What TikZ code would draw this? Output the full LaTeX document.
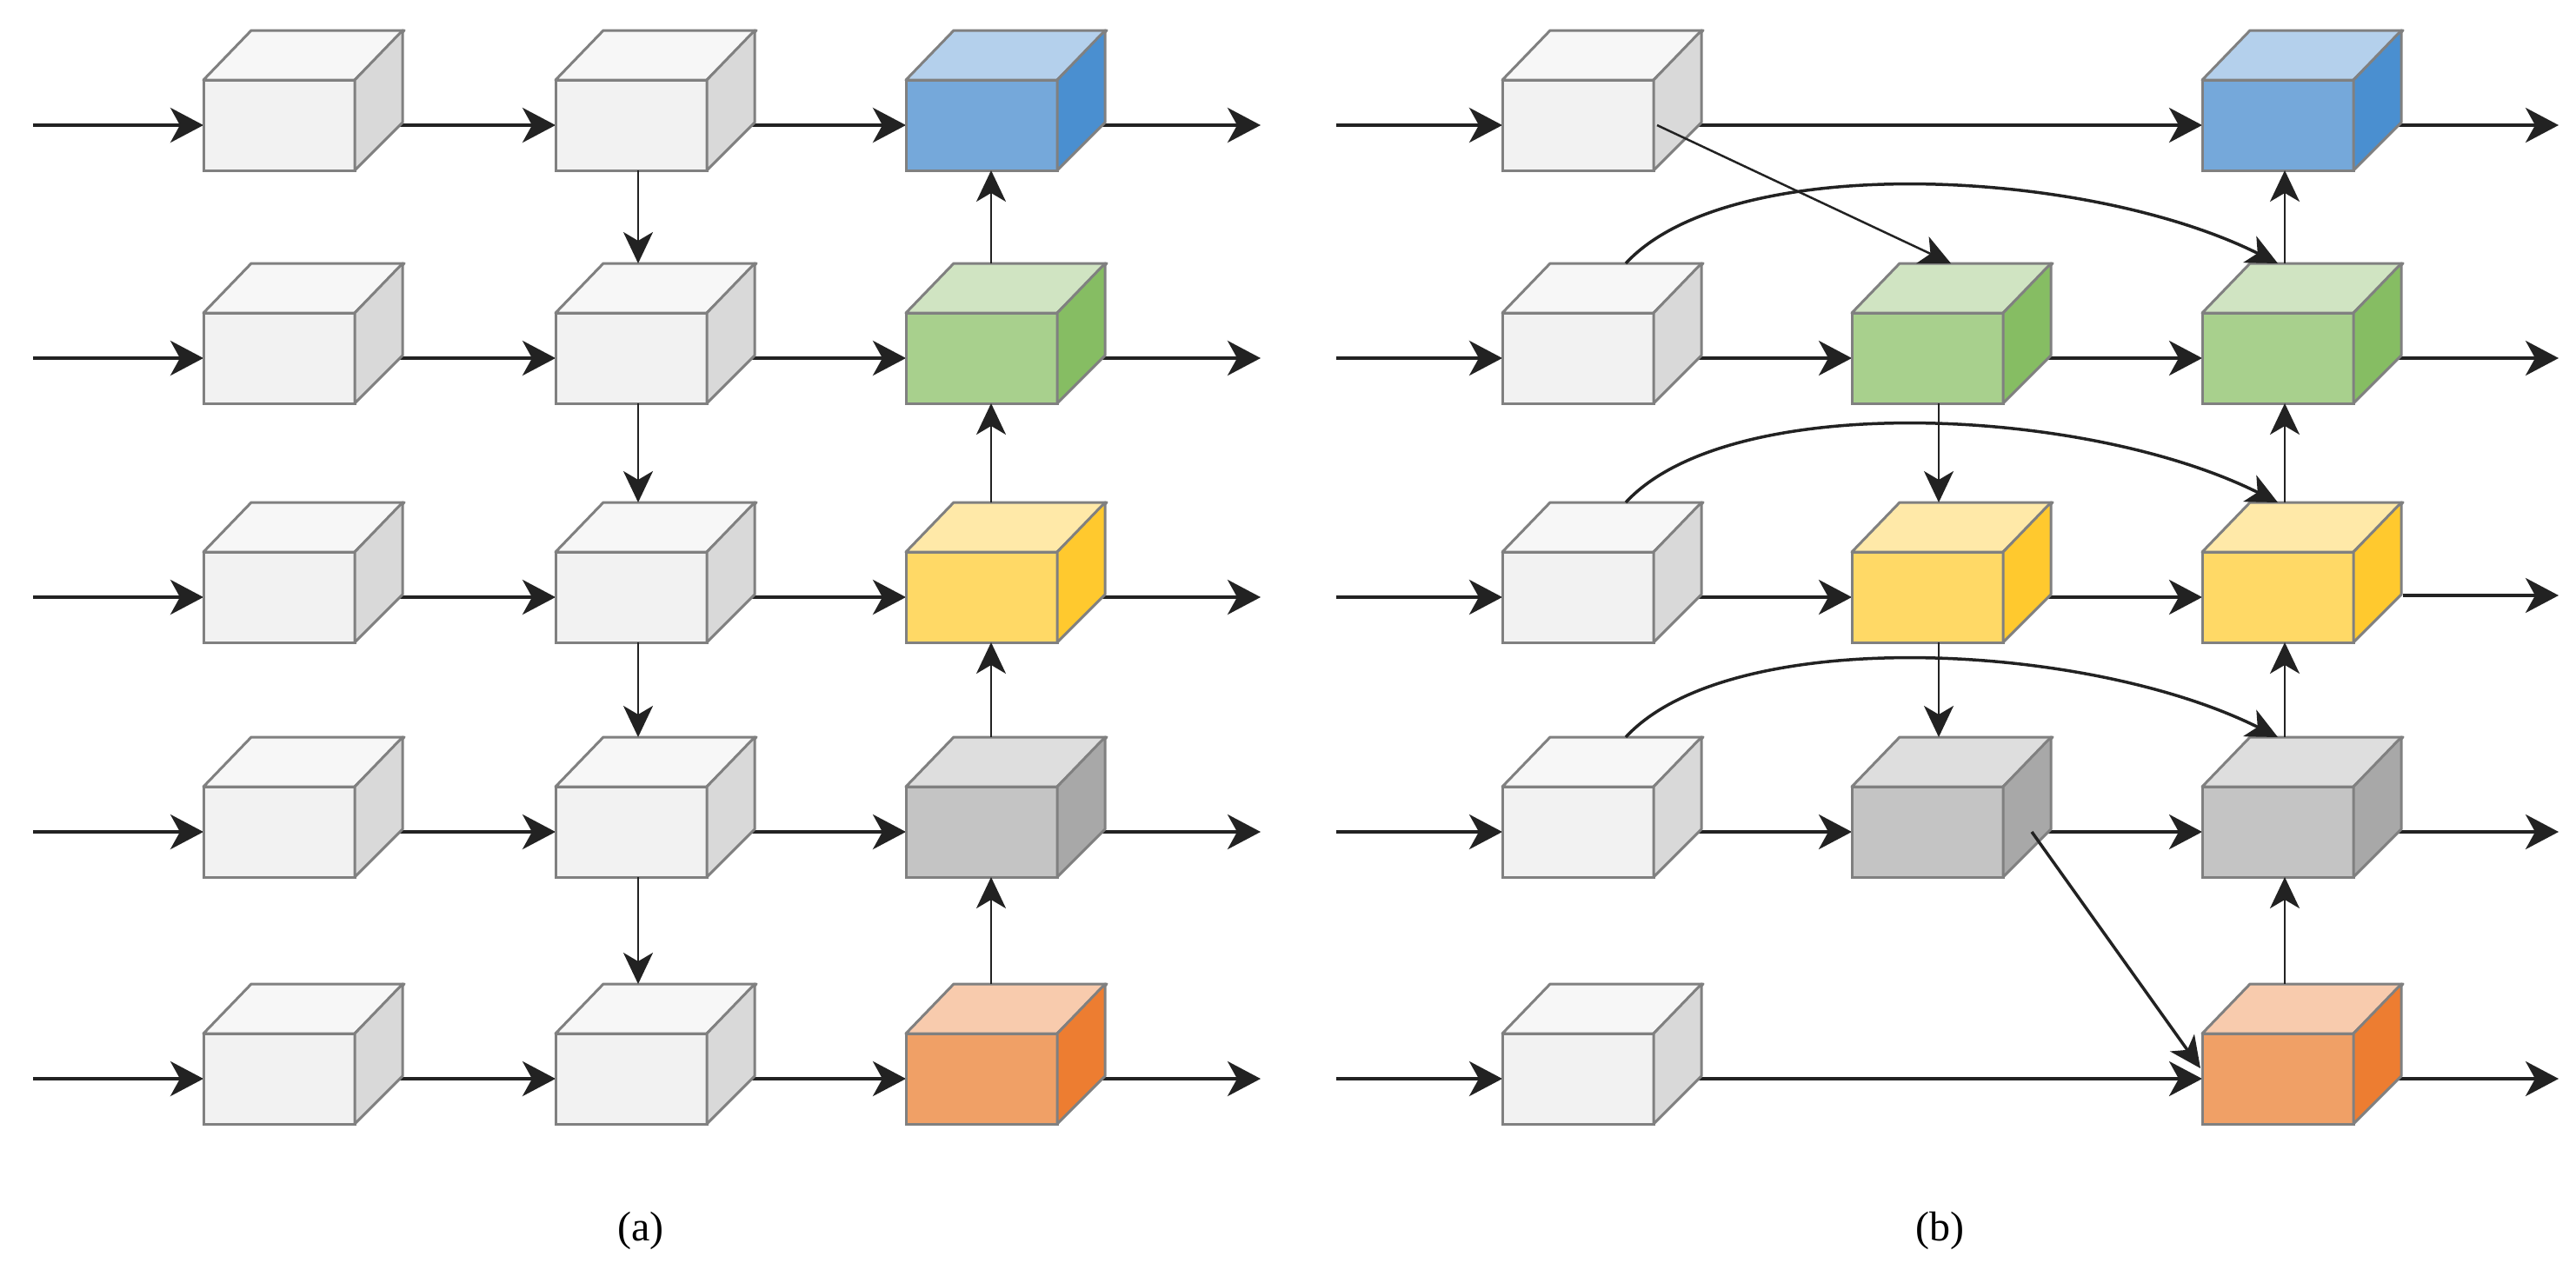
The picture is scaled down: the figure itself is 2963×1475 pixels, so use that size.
\documentclass[tikz,border=0pt]{standalone}
\usepackage{fontspec}
\setmainfont{Liberation Serif}
\usetikzlibrary{arrows.meta,calc}
\pgfdeclarelayer{background}
\pgfsetlayers{background,main}
\definecolor{edge}{HTML}{808080}
\definecolor{wF}{HTML}{F2F2F2}\definecolor{wT}{HTML}{F7F7F7}\definecolor{wS}{HTML}{D9D9D9}
\definecolor{bF}{HTML}{75A8DA}\definecolor{bT}{HTML}{B4D0EC}\definecolor{bS}{HTML}{4A8FD0}
\definecolor{gF}{HTML}{A8D08D}\definecolor{gT}{HTML}{D0E4C2}\definecolor{gS}{HTML}{86BD63}
\definecolor{yF}{HTML}{FFD966}\definecolor{yT}{HTML}{FFE9A8}\definecolor{yS}{HTML}{FFC92E}
\definecolor{kF}{HTML}{C4C4C4}\definecolor{kT}{HTML}{DEDEDE}\definecolor{kS}{HTML}{A8A8A8}
\definecolor{oF}{HTML}{F0A066}\definecolor{oT}{HTML}{F8CBAD}\definecolor{oS}{HTML}{ED7D31}
\definecolor{ink}{HTML}{222222}
\tikzset{
 cubefront/.style={draw=edge,line width=3pt,inner sep=0,outer sep=0,minimum width=174pt,minimum height=104pt,anchor=north west},
 cubeface/.style={draw=edge,line width=3pt,line join=round},
 harr/.style={draw=ink,line width=4pt,-{Stealth[length=38pt,width=40pt,inset=11pt]}},
 varr/.style={draw=ink,line width=2.5pt,-{Stealth[length=36pt,width=34pt,inset=10pt]}},
 curvearr/.style={draw=ink,line width=3.5pt,-{Stealth[length=36pt,width=34pt,inset=10pt]}},
}
\newcommand\mycube[4]{%
 \node[cubefront,fill=#4F] (#1) at (#2,#3) {};
 \path[cubeface,fill=#4T] (#1.north west) -- ++(55,-57) -- ++(176,0) -- (#1.north east) -- cycle;
 \path[cubeface,fill=#4S] (#1.north east) -- ++(55,-57) -- ++(0,106) -- (#1.south east) -- cycle;
}
\begin{document}
\begin{tikzpicture}[x=1pt,y=-1pt]
\useasboundingbox (0,0) rectangle (2963,1475);
% (a)
\foreach \r/\y in {1/92,2/360,3/635,4/905,5/1189}{
 \mycube{a\r1}{234}{\y}{w}
 \mycube{a\r2}{639}{\y}{w}
}
\mycube{a13}{1042}{92}{b}
\mycube{a23}{1042}{360}{g}
\mycube{a33}{1042}{635}{y}
\mycube{a43}{1042}{905}{k}
\mycube{a53}{1042}{1189}{o}
% (b)
\foreach \r/\y in {1/92,2/360,3/635,4/905,5/1189}{
 \mycube{b\r1}{1728}{\y}{w}
}
\mycube{b13}{2533}{92}{b}
\mycube{b22}{2130}{360}{g}
\mycube{b23}{2533}{360}{g}
\mycube{b32}{2130}{635}{y}
\mycube{b33}{2533}{635}{y}
\mycube{b42}{2130}{905}{k}
\mycube{b43}{2533}{905}{k}
\mycube{b53}{2533}{1189}{o}
% coordinates for free ends
\foreach \r in {1,...,5}{
 \coordinate (ia\r) at ($(a\r1.west)+(-196,0)$);
 \coordinate (oa\r) at ($(a\r1.west)+(1216,0)$);
 \coordinate (ib\r) at ($(a\r1.west)+(1303,0)$);
 \coordinate (ob\r) at ($(a\r1.west)+(2709,0)$);
}
\coordinate (sb33) at (2764,685);
\coordinate (ob3x) at (2943,685);
\begin{pgfonlayer}{background}
\foreach \r in {1,...,5}{
 \draw[harr] (ia\r) -- (a\r1.west);
 \draw[harr] (a\r1.east) -- (a\r2.west);
 \draw[harr] (a\r2.east) -- (a\r3.west);
 \draw[harr] (a\r3.east) -- (oa\r);
 \draw[harr] (ib\r) -- (b\r1.west);
}
\draw[harr] (b11.east) -- (b13.west);
\draw[harr] (b21.east) -- (b22.west);
\draw[harr] (b22.east) -- (b23.west);
\draw[harr] (b31.east) -- (b32.west);
\draw[harr] (b32.east) -- (b33.west);
\draw[harr] (b41.east) -- (b42.west);
\draw[harr] (b42.east) -- (b43.west);
\draw[harr] (b51.east) -- (b53.west);
\draw[harr] (b13.east) -- (ob1);
\draw[harr] (b23.east) -- (ob2);
\draw[harr] (b43.east) -- (ob4);
\draw[harr] (b53.east) -- (ob5);
\end{pgfonlayer}
\draw[harr] (sb33) -- (ob3x);
% (a) verticals
\foreach \r/\s in {1/2,2/3,3/4,4/5}{
 \draw[varr] ([xshift=8pt]a\r2.south) -- ($(a\s2.north)+(8,-57)$);
 \draw[varr] ($(a\s3.north)+(11,-57)$) -- ([xshift=11pt]a\r3.south);
}
% (b) verticals
\draw[varr] ([xshift=13pt]b22.south) -- ($(b32.north)+(13,-57)$);
\draw[varr] ([xshift=13pt]b32.south) -- ($(b42.north)+(13,-57)$);
\foreach \r/\s in {1/2,2/3,3/4,4/5}{
 \draw[varr] ($(b\s3.north)+(8,-57)$) -- ([xshift=8pt]b\r3.south);
}
% diagonals
\draw[varr] ([xshift=4pt]b11.east) -- ($(b22.north)+(27,-57)$);
\draw[curvearr] ($(b42.east)+(33,0)$) -- ($(b53.west)+(-2,-12)$);
% curves
\foreach \r in {2,3,4}{
 \draw[curvearr] ($(b\r1.north)+(55,-57)$) .. controls +(120,-130) and +(-220,-110) .. ($(b\r3.north)+(0,-57)$);
}
\node at (737,1416) {\fontsize{48pt}{56pt}\selectfont (a)};
\node at (2231,1416) {\fontsize{48pt}{56pt}\selectfont (b)};
\end{tikzpicture}
\end{document}
